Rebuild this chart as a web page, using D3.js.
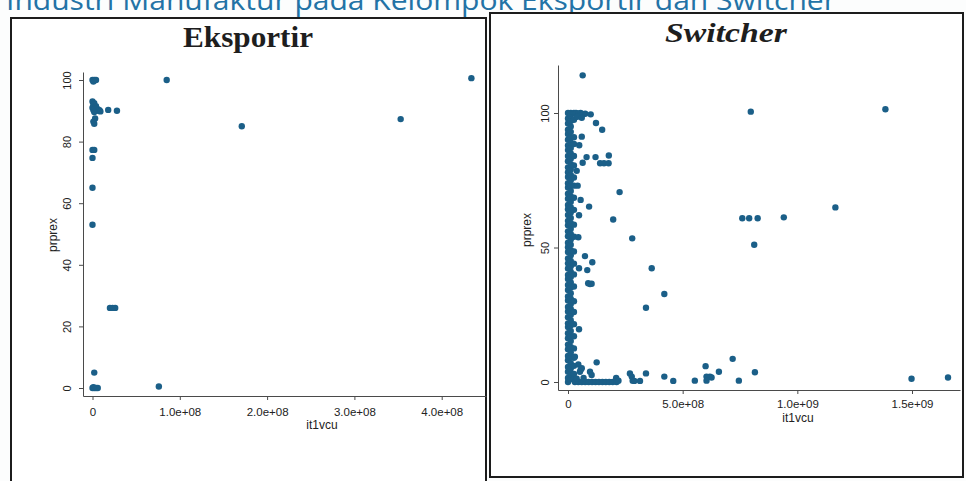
<!DOCTYPE html>
<html>
<head>
<meta charset="utf-8">
<script src="https://cdn.jsdelivr.net/npm/d3@7"></script>
<style>
body { margin: 0; background: #fcfdfd; }
</style>
</head>
<body>
<div id="chart-area"></div>
<script>
/*
*    two stata-style scatter panels: prprex vs it1vcu
*/

// ---- data ----
var pageTitle = "Industri Manufaktur pada Kelompok Eksportir dan Switcher";
var panelTitles = ["Eksportir", "Switcher"];
var xLabel = "it1vcu";
var yLabel = "prprex";

var eksXTicks = [0, 1e8, 2e8, 3e8, 4e8];
var eksXTickLabels = ["0", "1.0e+08", "2.0e+08", "3.0e+08", "4.0e+08"];
var eksYTicks = [0, 20, 40, 60, 80, 100];

var swXTicks = [0, 5e8, 1e9, 1.5e9];
var swXTickLabels = ["0", "5.0e+08", "1.0e+09", "1.5e+09"];
var swYTicks = [0, 50, 100];

// Eksportir firms [it1vcu, prprex]
var eksportirPoints = [
    [0, 100], [2e6, 100], [4e6, 100], [1e6, 99.5], [8.5e7, 100],
    [0, 93], [2e6, 92.5], [1e6, 92], [4e6, 91.5], [0, 91], [3e6, 90.8],
    [6e6, 90.5], [8e6, 90.2], [5e6, 90], [1e6, 90.3], [9e6, 89.8], [2e6, 89.6],
    [1.8e7, 90.3], [2.8e7, 90],
    [3e6, 87.5], [1e6, 86.5], [2e6, 85.8],
    [0, 77.3], [2e6, 77.3], [0, 74.7], [0, 65], [0, 53],
    [2e7, 26], [2.6e7, 26], [2.3e7, 26],
    [2e6, 5],
    [0, 0], [2e6, 0], [4e6, 0], [6e6, 0], [1e6, 0.3],
    [7.6e7, 0.5],
    [1.71e8, 85], [3.53e8, 87.3], [4.34e8, 100.6]
];

// Switcher firms: dense column near it1vcu = 0 (prprex values)
var swBandAtZero = [0, 1.5, 3.8, 5.6, 8.1, 9.7, 12.2, 13.9, 16.3, 18.1, 20.4, 21.8, 24.1,
    26.2, 27.9, 30.3, 31.8, 34.2, 36.1, 38.3, 39.8, 42.2, 44.1, 45.9, 48.3, 50.1, 51.8,
    54.2, 56, 58.3, 59.9, 62.1, 64.2, 65.8, 68.1, 70, 72.3, 73.9, 76.2, 78, 79.8, 82.1,
    84, 86.2, 87.9, 90.1, 92.2, 93.8, 96.1, 98, 100];
var swBandAt12M = [1, 3, 5, 7, 9.1, 11, 13, 15.2, 17, 19, 21.1, 23, 25, 27.2, 29, 31, 33,
    35.1, 37, 39, 41, 43, 45, 47.1, 49, 51, 53, 55, 57, 59, 61, 63, 65, 67, 69, 71, 73,
    75, 77, 79, 81, 83, 85, 87, 89, 91, 93, 95, 97, 99, 100];
var swBandAt26M = [100, 97.5, 91, 88.5, 84, 80.5, 76, 73, 68.5, 64, 58.5, 54, 48.5, 44,
    40, 35.5, 30, 26, 21.5, 17, 12.5, 9, 6, 3, 1];
// dense row along prprex ~ 0 (it1vcu values)
var swRowAtZero = [3e7, 4.5e7, 6e7, 7.5e7, 9e7, 1.05e8, 1.2e8, 1.35e8, 1.5e8, 1.65e8,
    1.8e8, 1.95e8, 2.12e8];

// remaining Switcher firms [it1vcu, prprex]
var switcherPoints = [
    [3.5e7, 100], [4.5e7, 99.8], [5.5e7, 100], [6.5e7, 99.5], [7.5e7, 99.7],
    [4e7, 98.6], [6e7, 98.2],
    [3.8e7, 1.2], [6.8e7, 1.5], [2.1e8, 1.5], [2.2e8, 0.5],
    [3e7, 9.4], [4.5e7, 6.5], [5.5e7, 4.5],
    [6.4e7, 114],
    [9.9e7, 99.5], [1.22e8, 96.3], [1.49e8, 93.8],
    [6e7, 91.2], [4.9e7, 88],
    [8.1e7, 83.6], [1.2e8, 83.6], [1.78e8, 84.2],
    [1.4e8, 81.3], [1.57e8, 81.3], [1.77e8, 81.3], [6.4e7, 81.5],
    [3.8e7, 78.5], [4.2e7, 73], [2.25e8, 70.6], [5.5e7, 67.7], [9.2e7, 65.2],
    [4.8e7, 62], [1.97e8, 60.4], [2.8e8, 53.4], [4.5e7, 53.8],
    [7.4e7, 46.8], [1.06e8, 44.5], [4.8e7, 42.3], [8.4e7, 41.6],
    [8.8e7, 36.7], [9.6e7, 36.4], [1.03e8, 36.5],
    [3.65e8, 42.3], [4.2e8, 32.7], [3.4e8, 27.6], [4.8e7, 19.6], [1.25e8, 7.3], [7.18e8, 8.6],
    [6e7, 5.1], [5.2e7, 3.8], [9.6e7, 3.8], [1.03e8, 2.6],
    [6e8, 5.9], [8.15e8, 3.6], [6.58e8, 3.8], [7.45e8, 0.5], [6.19e8, 2], [6.26e8, 1.7],
    [6.04e8, 2], [6.04e8, 0.5], [5.53e8, 0.5], [4.59e8, 0.4], [4.2e8, 2], [3.4e8, 3.2],
    [3.14e8, 0.4], [2.7e8, 3.2], [2.78e8, 2], [2.82e8, 0.5], [2.89e8, 0.4],
    [7.97e8, 100.5], [1.384e9, 101.4], [7.6e8, 60.9], [7.9e8, 60.9], [8.27e8, 60.9],
    [9.41e8, 61.2], [1.166e9, 64.9], [8.12e8, 51],
    [1.498e9, 1.2], [1.657e9, 1.7]
];

// ---- build point sets ----
var eksData = eksportirPoints.map(function(d) { return { x: d[0], y: d[1] }; });

var swData = [];
swBandAtZero.forEach(function(v) { swData.push({ x: 0, y: v }); });
swBandAt12M.forEach(function(v) { swData.push({ x: 1.2e7, y: v }); });
swBandAt26M.forEach(function(v) { swData.push({ x: 2.6e7, y: v }); });
swRowAtZero.forEach(function(v) { swData.push({ x: v, y: 0 }); });
switcherPoints.forEach(function(d) { swData.push({ x: d[0], y: d[1] }); });

var width = 966;
var height = 481;
var dotColor = "#1b5f88";
var axisColor = "#4a4a4a";
var sans = "'Liberation Sans', Arial, sans-serif";

var svg = d3.select("#chart-area").append("svg")
    .attr("width", width)
    .attr("height", height);

svg.append("rect")
    .attr("width", width)
    .attr("height", height)
    .attr("fill", "#fcfdfd");

// document heading, cut off by the top of the page as in the scan
svg.append("text")
    .attr("x", 6)
    .attr("y", 10)
    .attr("font-family", "'Open Sans', sans-serif")
    .attr("font-size", "27px")
    .attr("textLength", 830)
    .attr("lengthAdjust", "spacingAndGlyphs")
    .attr("fill", "#2373a6")
    .text(pageTitle);

function drawPanel(p) {
    // panel frame
    svg.append("rect")
        .attr("x", p.box[0]).attr("y", p.box[1])
        .attr("width", p.box[2]).attr("height", p.box[3])
        .attr("fill", "#ffffff")
        .attr("stroke", "#1c1c1c")
        .attr("stroke-width", 2);

    svg.append("text")
        .attr("x", p.titleX)
        .attr("y", p.titleY)
        .attr("text-anchor", "middle")
        .attr("font-family", "'Liberation Serif', 'DejaVu Serif', serif")
        .attr("font-weight", "bold")
        .attr("font-style", p.italic ? "italic" : "normal")
        .attr("font-size", p.titleSize + "px")
        .attr("textLength", p.titleLen)
        .attr("lengthAdjust", "spacingAndGlyphs")
        .attr("fill", "#1e1e1e")
        .text(p.title);

    // scales from reference points, then stretched to the axis line length
    var x = d3.scaleLinear().domain(p.xRef).range(p.xRefPx);
    x.domain([x.invert(p.xAxisPx[0]), x.invert(p.xAxisPx[1])]).range(p.xAxisPx);
    var y = d3.scaleLinear().domain([0, 100]).range(p.yRefPx);
    y.domain([y.invert(p.yAxisPx[0]), y.invert(p.yAxisPx[1])]).range(p.yAxisPx);

    var g = svg.append("g");

    var bottomAxis = d3.axisBottom(x)
        .tickValues(p.xTicks)
        .tickSize(4)
        .tickSizeOuter(0)
        .tickFormat(function(d, i) { return p.xTickLabels[i]; });
    var gx = g.append("g")
        .attr("transform", "translate(0," + p.yAxisPx[0] + ")")
        .call(bottomAxis);
    gx.selectAll("text")
        .attr("y", p.xLabelGap)
        .attr("font-family", sans)
        .attr("font-size", "11.5px")
        .attr("fill", "#222");

    var leftAxis = d3.axisLeft(y)
        .tickValues(p.yTicks)
        .tickSize(4)
        .tickSizeOuter(0);
    var gy = g.append("g")
        .attr("transform", "translate(" + p.xAxisPx[0] + ",0)")
        .call(leftAxis);
    gy.selectAll("text")
        .attr("transform", "rotate(-90)")
        .attr("x", 0)
        .attr("y", -p.yLabelGap)
        .attr("dy", 0)
        .attr("text-anchor", "middle")
        .attr("font-family", sans)
        .attr("font-size", "11px")
        .attr("fill", "#222");

    g.selectAll(".domain, .tick line")
        .attr("stroke", axisColor)
        .attr("stroke-width", 1);

    // axis titles
    g.append("text")
        .attr("x", p.xTitlePos[0])
        .attr("y", p.xTitlePos[1])
        .attr("text-anchor", "middle")
        .attr("font-family", sans)
        .attr("font-size", "12px")
        .attr("fill", "#222")
        .text(xLabel);
    g.append("text")
        .attr("transform", "translate(" + p.yTitlePos[0] + "," + p.yTitlePos[1] + ") rotate(-90)")
        .attr("text-anchor", "middle")
        .attr("font-family", sans)
        .attr("font-size", "12px")
        .attr("fill", "#222")
        .text(yLabel);

    g.selectAll("circle")
        .data(p.data)
        .enter()
        .append("circle")
        .attr("cx", function(d) { return x(d.x); })
        .attr("cy", function(d) { return y(d.y); })
        .attr("r", 3.2)
        .attr("fill", dotColor);
}

drawPanel({
    box: [11, 18, 475, 475],
    title: panelTitles[0], italic: false,
    titleX: 248, titleY: 47, titleSize: 29, titleLen: 130,
    xRef: [0, 4e8], xRefPx: [92.5, 441.7], xAxisPx: [83, 486],
    yRefPx: [388, 80], yAxisPx: [396, 72],
    xTicks: eksXTicks, xTickLabels: eksXTickLabels, yTicks: eksYTicks,
    xLabelGap: 12, yLabelGap: 12.5,
    xTitlePos: [322, 429], yTitlePos: [57, 235],
    data: eksData
});

drawPanel({
    box: [490, 13, 473, 464],
    title: panelTitles[1], italic: true,
    titleX: 726, titleY: 42, titleSize: 27, titleLen: 122,
    xRef: [0, 1.5e9], xRefPx: [568, 912], xAxisPx: [558, 960],
    yRefPx: [382, 113], yAxisPx: [390, 65],
    xTicks: swXTicks, xTickLabels: swXTickLabels, yTicks: swYTicks,
    xLabelGap: 10, yLabelGap: 9,
    xTitlePos: [798, 422], yTitlePos: [531, 230],
    data: swData
});
</script>
</body>
</html>
